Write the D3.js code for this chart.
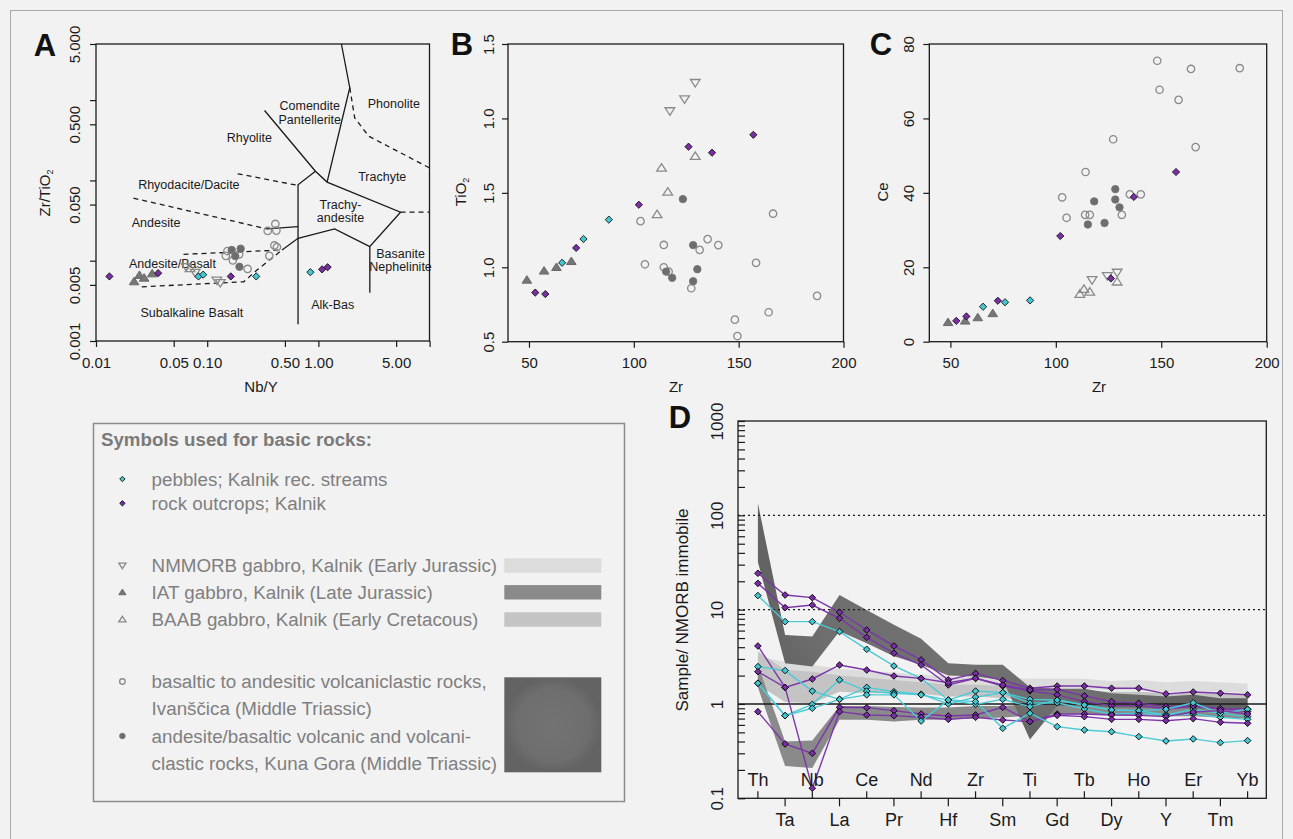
<!DOCTYPE html>
<html>
<head>
<meta charset="utf-8">
<script src="https://cdn.jsdelivr.net/npm/d3@7.9.0/dist/d3.min.js"></script>
<style>
  body { margin: 0; background: #f2f2f2; }
  svg { display: block; }
</style>
</head>
<body>
<svg id="fig" width="1293" height="839"></svg>
<script>
const FONT = '"Liberation Sans", Arial, sans-serif';
const CYAN = '#45c7d2';
const PURPLE = '#7a2ea6';
const INK = '#1a1a1a';

// ---------- panel A : Zr/TiO2 vs Nb/Y (Winchester & Floyd) ----------
const aPebbles  = [[0.0835,0.00637],[0.092,0.0067],[0.276,0.00637],[0.847,0.0072]];
const aOutcrops = [[0.0132,0.00637],[0.0362,0.0070],[0.163,0.00637],[1.08,0.0078],[1.21,0.0083]];
const aNMORB    = [[0.0647,0.0084],[0.078,0.0071],[0.122,0.0057],[0.131,0.0053]];
const aIAT      = [[0.022,0.0055],[0.0246,0.0066],[0.0271,0.0061],[0.032,0.0069]];
const aBAAB     = [[0.070,0.0080]];
const aIvan     = [[0.41,0.0287],[0.35,0.0235],[0.419,0.0237],[0.402,0.0155],[0.424,0.0148],[0.362,0.0115],
                   [0.147,0.0115],[0.170,0.0101],[0.194,0.0120],[0.231,0.0079],[0.152,0.0132]];
const aKuna     = [[0.166,0.0136],[0.200,0.0141],[0.195,0.0084],[0.179,0.0114]];

const aSolid = [
  [[1.61,5.0],[1.915,1.43],[1.197,0.0953]],
  [[0.328,0.743],[0.94,0.130],[1.197,0.0953],[5.48,0.0402],[2.90,0.0150],[2.90,0.00398]],
  [[0.94,0.130],[0.656,0.0883],[0.656,0.00162]],
  [[0.345,0.0249],[0.656,0.0266]],
  [[0.471,0.0136],[0.656,0.0190],[1.40,0.0249],[2.90,0.0150]]
];
const aDashed = [
  [[1.915,1.43],[2.12,0.601],[2.84,0.355],[10,0.143]],
  [[5.48,0.0402],[10,0.0402]],
  [[0.188,0.121],[0.656,0.0866]],
  [[0.0217,0.0601],[0.345,0.0249]],
  [[0.0612,0.0120],[0.471,0.0136]],
  [[0.0258,0.00473],[0.213,0.00546],[0.280,0.00764],[0.471,0.0136]]
];
const aFieldLabels = [
  {t:['Comendite','Pantellerite'], x:0.836, y:0.858},
  {t:['Phonolite'], x:4.77, y:0.917},
  {t:['Rhyolite'], x:0.239, y:0.338},
  {t:['Trachyte'], x:3.75, y:0.110},
  {t:['Rhyodacite/Dacite'], x:0.0684, y:0.0883},
  {t:['Trachy-','andesite'], x:1.58, y:0.0506},
  {t:['Andesite'], x:0.0347, y:0.0299},
  {t:['Basanite','Nephelinite'], x:5.48, y:0.01235},
  {t:['Andesite/Basalt'], x:0.0487, y:0.00917},
  {t:['Alk-Bas'], x:1.346, y:0.00287},
  {t:['Subalkaline Basalt'], x:0.0728, y:0.00224}
];
const aXTicks = [0.01,0.05,0.1,0.5,1,5,10];
const aXLabels = ['0.01','0.05','0.10','0.50','1.00','5.00',''];
const aYTicks = [5,1,0.5,0.1,0.05,0.01,0.005,0.001];
const aYLabels = ['5.000','','0.500','','0.050','','0.005','0.001'];

// ---------- panel B : TiO2 vs Zr ----------
const bPebbles  = [[65.8,1.03],[76.0,1.19],[88.1,1.32]];
const bOutcrops = [[53.0,0.83],[57.8,0.82],[72.5,1.13],[102.4,1.42],[126.1,1.81],[137.3,1.77],[157.0,1.89]];
const bNMORB    = [[117.2,2.05],[124.2,2.13],[129.3,2.24]];
const bIAT      = [[49.0,0.915],[57.2,0.976],[63.1,1.0],[70.2,1.04]];
const bBAAB     = [[111.1,1.355],[113.2,1.667],[116.2,1.506],[129.3,1.746]];
const bIvan     = [[103.2,1.31],[105.3,1.02],[114.3,1.15],[114.3,1.0],[116.6,0.971],[127.4,0.859],[131.4,1.117],
                   [135.2,1.189],[140.3,1.149],[158.3,1.03],[166.4,1.36],[148.2,0.648],[149.4,0.538],[164.3,0.698],[187.4,0.808]];
const bKuna     = [[123.4,1.458],[115.4,0.971],[118.3,0.929],[128.3,1.149],[130.3,0.987],[128.3,0.906]];
const bYTicks = [0.5,1.0,1.5,2.0,2.5];
const bYLabels = ['0.5','1.0','1.5','1.0','1.5'];

// ---------- panel C : Ce vs Zr ----------
const cPebbles  = [[65.5,9.4],[75.9,10.6],[87.8,11.1]];
const cOutcrops = [[52.8,5.6],[57.6,6.8],[72.5,11.0],[102.1,28.4],[126.1,17.0],[137.0,38.9],[157.0,45.6]];
const cNMORB    = [[117.2,16.6],[124.4,17.7],[129.1,18.6]];
const cIAT      = [[48.9,5.2],[57.0,5.6],[63.0,6.5],[70.1,7.6]];
const cBAAB     = [[111.4,12.8],[113.3,14.1],[116.1,13.4],[129.1,16.1]];
const cIvan     = [[148.1,75.5],[149.2,67.7],[164.1,73.3],[187.2,73.5],[158.2,65.0],[127.2,54.4],[166.3,52.3],[114.1,45.6],
                   [103.0,38.8],[105.1,33.3],[113.9,34.1],[116.1,34.1],[135.1,39.6],[140.3,39.6],[131.3,34.1]];
const cKuna     = [[118.2,37.7],[115.2,31.5],[123.1,31.9],[128.2,41.0],[128.2,38.2],[130.2,36.1]];
const zrTicks = [50,100,150,200];
const cYTicks = [0,20,40,60,80];

// ---------- panel D : NMORB-normalised immobile elements ----------
const elements = ['Th','Ta','Nb','La','Ce','Pr','Nd','Hf','Zr','Sm','Ti','Gd','Tb','Dy','Ho','Y','Er','Tm','Yb'];
const nmorbHi = [3.2,2.8,2.6,2.35,2.25,2.15,2.05,1.95,1.95,1.9,1.85,1.85,1.85,1.75,1.8,1.7,1.75,1.7,1.65];
const nmorbLo = [2.4,2.2,2.1,1.9,1.8,1.7,1.65,1.55,1.55,1.5,1.45,1.45,1.45,1.4,1.4,1.35,1.35,1.35,1.3];
const baabHi  = [3.6,2.3,2.2,2.0,1.9,1.8,1.7,1.6,1.6,1.55,1.45,1.45,1.4,1.35,1.35,1.3,1.3,1.3,1.3];
const baabLo  = [1.6,1.05,1.02,1.35,1.3,1.3,1.28,1.2,1.2,1.15,1.1,1.1,1.1,1.05,1.05,1.02,1.05,1.0,1.0];
const iatHi   = [2.6,0.40,0.41,0.95,0.95,0.93,0.92,0.92,0.95,0.95,1.0,1.05,1.05,1.05,1.05,1.05,1.05,1.02,1.0];
const iatLo   = [1.5,0.22,0.21,0.68,0.68,0.65,0.68,0.68,0.70,0.72,0.75,0.78,0.78,0.76,0.76,0.74,0.74,0.72,0.70];
const triHi   = [134,5.4,5.2,14.3,9.9,6.9,4.9,2.7,2.6,2.6,1.5,1.45,1.45,1.3,1.25,1.2,1.25,1.15,1.15];
const triLo   = [32,2.7,2.5,5.9,4.4,3.2,2.6,2.0,1.95,1.8,0.42,0.95,0.95,0.92,0.92,0.9,0.9,0.88,0.88];

const dSamples = [
  {c:'P', v:[24.3,14.3,13.4,9.38,6.09,4.12,2.93,1.80,2.11,1.77,1.47,1.55,1.55,1.47,1.47,1.28,1.34,1.30,1.25]},
  {c:'P', v:[19.0,10.5,11.2,8.10,5.09,3.45,2.59,1.59,1.87,1.55,1.38,1.25,1.06,0.96,0.96,0.88,0.95,0.89,0.83]},
  {c:'C', v:[14.1,7.46,7.46,5.85,3.80,2.53,1.87,1.10,1.37,1.32,1.12,1.10,0.976,0.864,0.85,0.764,0.878,0.796,0.734]},
  {c:'P', v:[4.12,1.50,1.84,2.59,2.29,1.98,1.87,1.68,1.87,1.59,1.41,1.43,1.22,1.06,1.02,0.937,0.952,0.892,0.878]},
  {c:'C', v:[2.49,2.26,1.37,1.12,1.50,1.35,1.27,1.00,1.18,1.32,1.02,1.03,0.885,0.783,0.796,0.764,0.783,0.722,0.687]},
  {c:'C', v:[1.66,0.752,0.99,1.80,1.37,1.30,1.25,1.10,0.99,1.12,0.937,1.10,0.976,0.864,0.85,0.878,1.03,0.796,0.878]},
  {c:'P', v:[0.829,0.377,0.300,0.922,0.914,0.850,0.783,0.746,0.764,0.922,0.650,0.783,0.783,0.764,0.758,0.734,0.822,0.85,0.783]},
  {c:'P', v:[2.20,1.50,0.128,0.829,0.764,0.752,0.722,0.687,0.722,0.676,0.650,0.758,0.734,0.687,0.687,0.665,0.699,0.639,0.624]},
  {c:'C', v:[1.66,0.752,0.90,1.12,1.25,1.25,0.66,1.10,1.06,0.552,0.796,0.575,0.530,0.508,0.451,0.405,0.426,0.389,0.409]}
];
const dYMajor = [0.1,1,10,100,1000];
const dRefDotted = [10,100];

// ---------- legend ----------
const legendItems = [
  {sym:'pebbles',  lines:['pebbles; Kalnik rec. streams']},
  {sym:'outcrops', lines:['rock outcrops; Kalnik']},
  {sym:'nmorb',    lines:['NMMORB gabbro, Kalnik (Early Jurassic)'], swatch:'#dcdcdc'},
  {sym:'iat',      lines:['IAT gabbro, Kalnik (Late Jurassic)'], swatch:'#8a8a8a'},
  {sym:'baab',     lines:['BAAB gabbro, Kalnik (Early Cretacous)'], swatch:'#c4c4c4'},
  {sym:'ivan',     lines:['basaltic to andesitic volcaniclastic rocks,','Ivanščica (Middle Triassic)']},
  {sym:'kuna',     lines:['andesite/basaltic volcanic and volcani-','clastic rocks, Kuna Gora (Middle Triassic)']}
];

// =====================================================================
const svg = d3.select('#fig').attr('font-family', FONT);

const defs = svg.append('defs');
const grad = defs.append('radialGradient').attr('id', 'triGrad');
grad.append('stop').attr('offset', '0%').attr('stop-color', '#737373');
grad.append('stop').attr('offset', '75%').attr('stop-color', '#6e6e6e');
grad.append('stop').attr('offset', '100%').attr('stop-color', '#636363');

svg.append('rect').attr('width', 1293).attr('height', 839).attr('fill', '#f2f2f2');
svg.append('rect').attr('x', 10.5).attr('y', 10.5).attr('width', 1272).attr('height', 840)
  .attr('fill', 'none').attr('stroke', '#a8a8a8').attr('stroke-width', 1);

const symStyle = {
  pebbles:  {shape:'diamond', fill:CYAN,   stroke:'#111', sw:0.9, r:3.6},
  outcrops: {shape:'diamond', fill:PURPLE, stroke:'#111', sw:0.9, r:3.6},
  nmorb:    {shape:'down',    fill:'none', stroke:'#8a8a8a', sw:1.3, r:4.3},
  iat:      {shape:'up',      fill:'#767676', stroke:'#6a6a6a', sw:1, r:4.3},
  baab:     {shape:'up',      fill:'none', stroke:'#8a8a8a', sw:1.3, r:4.3},
  ivan:     {shape:'circle',  fill:'none', stroke:'#8a8a8a', sw:1.3, r:3.7},
  kuna:     {shape:'circle',  fill:'#6d6d6d', stroke:'#777', sw:1, r:3.7}
};

function symPath(shape, r) {
  if (shape === 'diamond') return `M0,${-r}L${r},0L0,${r}L${-r},0Z`;
  if (shape === 'up') return `M0,${-r}L${r*1.12},${r*0.75}L${-r*1.12},${r*0.75}Z`;
  if (shape === 'down') return `M0,${r}L${r*1.12},${-r*0.75}L${-r*1.12},${-r*0.75}Z`;
  return d3.arc()({innerRadius:0, outerRadius:r, startAngle:0, endAngle:2*Math.PI});
}

function drawPoints(g, data, key, xs, ys, scale = 1) {
  const s = symStyle[key];
  g.selectAll(null).data(data).join('path')
    .attr('d', symPath(s.shape, s.r * scale))
    .attr('transform', d => `translate(${xs(d[0])},${ys(d[1])})`)
    .attr('fill', s.fill).attr('stroke', s.stroke).attr('stroke-width', s.sw);
}

function frame(x0, x1, y0, y1) {
  svg.append('rect').attr('x', x0).attr('y', y0).attr('width', x1 - x0).attr('height', y1 - y0)
    .attr('fill', 'none').attr('stroke', INK).attr('stroke-width', 1.3);
}

function styleAxis(g, size) {
  g.attr('font-family', FONT).attr('font-size', size);
  g.select('.domain').remove();
  g.selectAll('line').attr('stroke', INK).attr('stroke-width', 1.2);
  g.selectAll('text').attr('fill', INK);
}

function xAxis(xs, y, ticks, labels) {
  const g = svg.append('g').attr('transform', `translate(0,${y})`)
    .call(d3.axisBottom(xs).tickValues(ticks).tickSize(6).tickFormat((d, i) => labels[i]));
  styleAxis(g, 15);
  g.selectAll('text').attr('y', 16).attr('dy', '0.71em');
}

function yAxis(ys, x, ticks, labels, off = 20) {
  const g = svg.append('g').attr('transform', `translate(${x},0)`)
    .call(d3.axisLeft(ys).tickValues(ticks).tickSize(6).tickFormat((d, i) => labels[i]));
  styleAxis(g, 15);
  g.selectAll('text').attr('transform', 'rotate(-90)').attr('text-anchor', 'middle')
    .attr('x', 0).attr('y', -off + 5.3).attr('dy', 0);
}

function rotTitle(x, y, parts, size = 15) {
  const t = svg.append('text').attr('transform', `translate(${x},${y}) rotate(-90)`)
    .attr('text-anchor', 'middle').attr('font-size', size).attr('fill', INK);
  parts.forEach(p => {
    const ts = t.append('tspan').text(p[0]);
    if (p[1]) ts.attr('font-size', size * 0.6).attr('dy', 3);
  });
}

function letter(ch, x, y) {
  svg.append('text').attr('x', x).attr('y', y + 11).attr('text-anchor', 'middle')
    .attr('font-size', 31).attr('font-weight', 'bold').attr('fill', '#111').text(ch);
}

// ---------------- Panel A ----------------
const ax = {l: 96, r: 429.5, t: 44, b: 341};
const xA = d3.scaleLog().domain([0.01, 10]).range([ax.l, ax.l + 3 * 111.2]);
const yA = d3.scaleLog().domain([0.001, 5]).range([ax.b, ax.t]);
const aLine = d3.line().x(d => xA(d[0])).y(d => yA(d[1]));

const gA = svg.append('g');
aSolid.forEach(s => gA.append('path').attr('d', aLine(s)).attr('fill', 'none')
  .attr('stroke', INK).attr('stroke-width', 1.3));
aDashed.forEach(s => gA.append('path').attr('d', aLine(s)).attr('fill', 'none')
  .attr('stroke', INK).attr('stroke-width', 1.3).attr('stroke-dasharray', '5,4'));

aFieldLabels.forEach(f => {
  const t = gA.append('text').attr('x', xA(f.x)).attr('y', yA(f.y)).attr('text-anchor', 'middle')
    .attr('font-size', 12.5).attr('fill', INK);
  f.t.forEach((line, i) => t.append('tspan').attr('x', xA(f.x))
    .attr('dy', i === 0 ? '0.35em' : '1.1em').text(line));
});

drawPoints(gA, aIvan, 'ivan', xA, yA);
drawPoints(gA, aKuna, 'kuna', xA, yA);
drawPoints(gA, aNMORB, 'nmorb', xA, yA);
drawPoints(gA, aBAAB, 'baab', xA, yA);
drawPoints(gA, aIAT, 'iat', xA, yA);
drawPoints(gA, aPebbles, 'pebbles', xA, yA);
drawPoints(gA, aOutcrops, 'outcrops', xA, yA);

frame(ax.l, ax.r, ax.t, ax.b);
xAxis(xA, ax.b, aXTicks, aXLabels);
yAxis(yA, ax.l, aYTicks, aYLabels, 21);
svg.append('text').attr('x', 261).attr('y', 392).attr('text-anchor', 'middle')
  .attr('font-size', 15).attr('fill', INK).text('Nb/Y');
rotTitle(50, 193, [['Zr/TiO'], ['2', true]]);
letter('A', 45, 45);

// ---------------- Panel B ----------------
const bx = {l: 508, r: 843.5, t: 44, b: 341.7};
const xB = d3.scaleLinear().domain([40, 200]).range([bx.l, bx.r]);
const yB = d3.scaleLinear().domain([0.5, 2.5]).range([bx.b, bx.t]);
const gB = svg.append('g');
drawPoints(gB, bIvan, 'ivan', xB, yB);
drawPoints(gB, bKuna, 'kuna', xB, yB);
drawPoints(gB, bNMORB, 'nmorb', xB, yB);
drawPoints(gB, bBAAB, 'baab', xB, yB);
drawPoints(gB, bIAT, 'iat', xB, yB);
drawPoints(gB, bPebbles, 'pebbles', xB, yB);
drawPoints(gB, bOutcrops, 'outcrops', xB, yB);
frame(bx.l, bx.r, bx.t, bx.b);
xAxis(xB, bx.b, zrTicks, zrTicks.map(String));
yAxis(yB, bx.l, bYTicks, bYLabels, 19);
svg.append('text').attr('x', 676).attr('y', 392).attr('text-anchor', 'middle')
  .attr('font-size', 15).attr('fill', INK).text('Zr');
rotTitle(466, 192, [['TiO'], ['2', true]]);
letter('B', 462, 44);

// ---------------- Panel C ----------------
const cx = {l: 929.3, r: 1266.7, t: 44, b: 341.7};
const xC = d3.scaleLinear().domain([40, 200]).range([cx.l, cx.r]);
const yC = d3.scaleLinear().domain([0, 80]).range([cx.b, cx.t]);
const gC = svg.append('g');
drawPoints(gC, cIvan, 'ivan', xC, yC);
drawPoints(gC, cKuna, 'kuna', xC, yC);
drawPoints(gC, cNMORB, 'nmorb', xC, yC);
drawPoints(gC, cBAAB, 'baab', xC, yC);
drawPoints(gC, cIAT, 'iat', xC, yC);
drawPoints(gC, cPebbles, 'pebbles', xC, yC);
drawPoints(gC, cOutcrops, 'outcrops', xC, yC);
frame(cx.l, cx.r, cx.t, cx.b);
xAxis(xC, cx.b, zrTicks, zrTicks.map(String));
yAxis(yC, cx.l, cYTicks, cYTicks.map(String), 21);
svg.append('text').attr('x', 1099).attr('y', 392).attr('text-anchor', 'middle')
  .attr('font-size', 15).attr('fill', INK).text('Zr');
rotTitle(888, 192, [['Ce']]);
letter('C', 881, 44);

// ---------------- Panel D ----------------
const dx = {l: 738, r: 1266.3, t: 421, b: 798.3};
const xD = d3.scalePoint().domain(elements).range([757.9, 1247.6]);
const yD = d3.scaleLog().domain([0.1, 1000]).range([dx.b, dx.t]);
const gD = svg.append('g');

function band(hi, lo, fill) {
  const area = d3.area().x((d, i) => xD(elements[i])).y0(d => yD(d[1])).y1(d => yD(d[0]));
  gD.append('path').datum(hi.map((h, i) => [h, lo[i]])).attr('d', area).attr('fill', fill);
}
band(nmorbHi, nmorbLo, '#dcdcdc');
band(baabHi, baabLo, '#c4c4c4');
band(iatHi, iatLo, '#8a8a8a');
band(triHi, triLo, 'url(#triGrad)');

dRefDotted.forEach(v => gD.append('line').attr('x1', dx.l).attr('x2', dx.r)
  .attr('y1', yD(v)).attr('y2', yD(v)).attr('stroke', INK).attr('stroke-width', 1.4)
  .attr('stroke-dasharray', '2,3'));
gD.append('line').attr('x1', dx.l).attr('x2', dx.r).attr('y1', yD(1)).attr('y2', yD(1))
  .attr('stroke', INK).attr('stroke-width', 1.5);

const sLine = d3.line().x((d, i) => xD(elements[i])).y(d => yD(d));
dSamples.forEach(s => gD.append('path').attr('d', sLine(s.v)).attr('fill', 'none')
  .attr('stroke', s.c === 'P' ? '#7d35aa' : '#4ccad6').attr('stroke-width', 1.4));
dSamples.forEach(s => gD.selectAll(null).data(s.v).join('path')
  .attr('d', symPath('diamond', 3.3))
  .attr('transform', (d, i) => `translate(${xD(elements[i])},${yD(d)})`)
  .attr('fill', s.c === 'P' ? PURPLE : CYAN).attr('stroke', '#000').attr('stroke-width', 0.9));

frame(dx.l, dx.r, dx.t, dx.b);

// y ticks (drawn inward) with minor log ticks
const dMinor = [];
dYMajor.slice(0, -1).forEach(m => { for (let k = 2; k <= 9; k++) dMinor.push(m * k); });
const gDy = svg.append('g').attr('transform', `translate(${dx.l},0)`)
  .call(d3.axisLeft(yD).tickValues(dYMajor.concat(dMinor)).tickSize(-7)
    .tickFormat(d => dYMajor.includes(d) ? String(d) : ''));
styleAxis(gDy, 17);
gDy.selectAll('text').attr('transform', 'rotate(-90)').attr('text-anchor', 'middle')
  .attr('x', 0).attr('y', -15).attr('dy', 0);

// element ticks + labels on two rows
elements.forEach((el, i) => {
  const x = xD(el), top = i % 2 === 0;
  svg.append('line').attr('x1', x).attr('x2', x)
    .attr('y1', dx.b).attr('y2', top ? dx.b - 7 : dx.b + 8)
    .attr('stroke', INK).attr('stroke-width', 1.2);
  svg.append('text').attr('x', x).attr('y', top ? 780 : 820).attr('dy', '0.35em')
    .attr('text-anchor', 'middle').attr('font-size', 18).attr('fill', INK).text(el);
});
rotTitle(688, 610, [['Sample/ NMORB immobile']], 17);
letter('D', 680, 417);

// ---------------- Legend ----------------
const lg = svg.append('g');
lg.append('rect').attr('x', 93.5).attr('y', 423.5).attr('width', 531).attr('height', 378)
  .attr('fill', 'none').attr('stroke', '#8c8c8c').attr('stroke-width', 1.5);
lg.append('text').attr('x', 101).attr('y', 439).attr('dy', '0.35em')
  .attr('font-size', 18.7).attr('font-weight', 'bold').attr('fill', '#7a7a7a')
  .text('Symbols used for basic rocks:');

const legendY = [479, 503.3, 565.5, 592.3, 619.5, 681.5, 736];
legendItems.forEach((it, i) => {
  const y = legendY[i];
  const s = symStyle[it.sym];
  lg.append('path').attr('d', symPath(s.shape, s.r * 0.75))
    .attr('transform', `translate(122.4,${y})`)
    .attr('fill', s.fill).attr('stroke', s.stroke).attr('stroke-width', s.sw);
  it.lines.forEach((line, j) => lg.append('text').attr('x', 151.6).attr('y', y + j * 27.3)
    .attr('dy', '0.35em').attr('font-size', 18.8).attr('fill', '#7f7f7f').text(line));
  if (it.swatch) {
    lg.append('rect').attr('x', 504.3).attr('y', y - 7.2).attr('width', 97).attr('height', 14.4)
      .attr('fill', it.swatch);
  }
});
lg.append('rect').attr('x', 504.3).attr('y', 677.3).attr('width', 97).attr('height', 95)
  .attr('fill', 'url(#triGrad)');
</script>
</body>
</html>
